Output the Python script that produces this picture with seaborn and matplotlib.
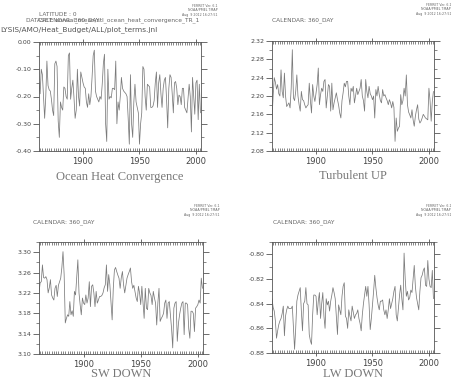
import numpy as np
import matplotlib
matplotlib.use("Agg")
import matplotlib.pyplot as plt
from matplotlib.ticker import MultipleLocator, FormatStrFormatter
import seaborn as sns

# annual series, one value per year starting 1861
start_year = 1861

ocean_heat_conv = [
    -0.15, -0.19, -0.10, -0.12, -0.20, -0.28, -0.20, -0.07, -0.16, -0.175,
    -0.18, -0.21, -0.25, -0.27, -0.08, -0.07, -0.09, -0.29, -0.35, -0.22,
    -0.24, -0.25, -0.165, -0.17, -0.20, -0.21, -0.05, -0.04, -0.21, -0.17,
    -0.14, -0.205, -0.28, -0.25, -0.10, -0.20, -0.235, -0.11, -0.13, -0.15,
    -0.165, -0.17, -0.22, -0.24, -0.19, -0.23, -0.20, -0.13, -0.05, -0.03,
    -0.18, -0.20, -0.21, -0.22, -0.20, -0.21, -0.155, -0.08, -0.045, -0.30,
    -0.365, -0.10, -0.21, -0.20, -0.205, -0.17, -0.17, -0.175, -0.07, -0.30,
    -0.22, -0.25, -0.20, -0.13, -0.17, -0.18, -0.185, -0.19, -0.20, -0.28,
    -0.375, -0.12, -0.30, -0.35, -0.22, -0.155, -0.22, -0.24, -0.26, -0.375,
    -0.30, -0.26, -0.09, -0.10, -0.20, -0.25, -0.155, -0.16, -0.165, -0.24,
    -0.24, -0.235, -0.215, -0.15, -0.11, -0.24, -0.15, -0.12, -0.19, -0.24,
    -0.17, -0.14, -0.13, -0.21, -0.315, -0.17, -0.12, -0.13, -0.19, -0.26,
    -0.15, -0.145, -0.17, -0.23, -0.195, -0.20, -0.23, -0.17, -0.17, -0.24,
    -0.25, -0.26, -0.205, -0.155, -0.20, -0.33, -0.13, -0.20, -0.265, -0.15,
    -0.14, -0.285, -0.155, -0.26,
]

turbulent_up = [
    2.15, 2.20, 2.24, 2.23, 2.215, 2.225, 2.205, 2.20, 2.257, 2.21,
    2.196, 2.25, 2.20, 2.177, 2.181, 2.185, 2.174, 2.217, 2.301, 2.196,
    2.19, 2.21, 2.246, 2.20, 2.181, 2.167, 2.21, 2.192, 2.19, 2.181,
    2.174, 2.178, 2.181, 2.228, 2.19, 2.163, 2.225, 2.20, 2.188, 2.207,
    2.225, 2.261, 2.181, 2.203, 2.217, 2.21, 2.232, 2.236, 2.174, 2.20,
    2.225, 2.221, 2.167, 2.228, 2.17, 2.185, 2.196, 2.207, 2.192, 2.18,
    2.163, 2.152, 2.19, 2.207, 2.228, 2.22, 2.232, 2.232, 2.20, 2.181,
    2.217, 2.21, 2.221, 2.185, 2.20, 2.217, 2.203, 2.21, 2.217, 2.236,
    2.20, 2.19, 2.167, 2.236, 2.21, 2.196, 2.221, 2.205, 2.20, 2.192,
    2.20, 2.152, 2.214, 2.20, 2.221, 2.203, 2.19, 2.185, 2.214, 2.20,
    2.203, 2.196, 2.19, 2.181, 2.192, 2.185, 2.174, 2.188, 2.175, 2.101,
    2.152, 2.123, 2.13, 2.134, 2.203, 2.181, 2.19, 2.217, 2.20, 2.246,
    2.181, 2.165, 2.159, 2.152, 2.17, 2.148, 2.134, 2.156, 2.17, 2.181,
    2.15, 2.141, 2.145, 2.152, 2.16, 2.156, 2.152, 2.15, 2.148, 2.217,
    2.19, 2.145, 2.188, 2.21,
]

sw_down = [
    3.22, 3.24, 3.242, 3.275, 3.25, 3.249, 3.252, 3.246, 3.22, 3.23,
    3.246, 3.216, 3.21, 3.206, 3.229, 3.235, 3.213, 3.235, 3.242, 3.249,
    3.27, 3.301, 3.256, 3.161, 3.17, 3.177, 3.174, 3.203, 3.177, 3.185,
    3.174, 3.223, 3.216, 3.25, 3.285, 3.22, 3.197, 3.177, 3.21, 3.20,
    3.197, 3.216, 3.20, 3.21, 3.242, 3.193, 3.233, 3.236, 3.22, 3.193,
    3.223, 3.20, 3.206, 3.213, 3.213, 3.215, 3.22, 3.23, 3.236, 3.275,
    3.223, 3.256, 3.236, 3.20, 3.167, 3.229, 3.265, 3.27, 3.262, 3.255,
    3.249, 3.229, 3.25, 3.262, 3.236, 3.22, 3.235, 3.249, 3.256, 3.262,
    3.269, 3.242, 3.229, 3.235, 3.223, 3.21, 3.203, 3.233, 3.22, 3.197,
    3.233, 3.20, 3.17, 3.229, 3.19, 3.187, 3.229, 3.22, 3.215, 3.197,
    3.223, 3.21, 3.20, 3.157, 3.20, 3.229, 3.164, 3.17, 3.174, 3.18,
    3.20, 3.206, 3.17, 3.20, 3.203, 3.177, 3.15, 3.112, 3.19, 3.20,
    3.203, 3.125, 3.16, 3.177, 3.19, 3.20, 3.203, 3.138, 3.20, 3.20,
    3.197, 3.15, 3.131, 3.184, 3.184, 3.18, 3.144, 3.19, 3.193, 3.197,
    3.206, 3.20, 3.249, 3.229,
]

lw_down = [
    -0.836, -0.843, -0.846, -0.854, -0.868, -0.862, -0.857, -0.854, -0.852, -0.848,
    -0.842, -0.866, -0.850, -0.845, -0.842, -0.844, -0.844, -0.844, -0.842, -0.860,
    -0.877, -0.860, -0.838, -0.833, -0.830, -0.827, -0.846, -0.862, -0.840, -0.838,
    -0.827, -0.840, -0.841, -0.865, -0.870, -0.873, -0.849, -0.833, -0.833, -0.834,
    -0.849, -0.838, -0.831, -0.852, -0.840, -0.831, -0.850, -0.860, -0.836, -0.841,
    -0.838, -0.846, -0.838, -0.833, -0.827, -0.831, -0.836, -0.850, -0.865, -0.841,
    -0.845, -0.849, -0.834, -0.826, -0.823, -0.850, -0.852, -0.860, -0.845, -0.850,
    -0.854, -0.842, -0.847, -0.852, -0.849, -0.848, -0.845, -0.852, -0.856, -0.862,
    -0.849, -0.840, -0.833, -0.826, -0.834, -0.826, -0.841, -0.861, -0.852, -0.841,
    -0.830, -0.817, -0.827, -0.835, -0.841, -0.845, -0.838, -0.838, -0.837, -0.845,
    -0.849, -0.845, -0.852, -0.845, -0.836, -0.844, -0.840, -0.836, -0.830, -0.826,
    -0.849, -0.854, -0.843, -0.833, -0.825, -0.836, -0.845, -0.799, -0.820, -0.834,
    -0.830, -0.837, -0.835, -0.829, -0.831, -0.820, -0.809, -0.826, -0.835, -0.840,
    -0.845, -0.830, -0.819, -0.817, -0.813, -0.811, -0.825, -0.826, -0.805, -0.820,
    -0.826, -0.827, -0.813, -0.836,
]

panel_titles = ["Ocean Heat Convergence", "Turbulent UP", "SW DOWN", "LW DOWN"]
panel_ylims = [(-0.40, 0.00), (2.08, 2.32), (3.10, 3.32), (-0.88, -0.79)]
panel_yticks = [
    [-0.40, -0.30, -0.20, -0.10, 0.00],
    [2.08, 2.12, 2.16, 2.20, 2.24, 2.28, 2.32],
    [3.10, 3.14, 3.18, 3.22, 3.26, 3.30],
    [-0.88, -0.86, -0.84, -0.82, -0.80],
]
x_ticks = [1900, 1950, 2000]

sns.set_theme(style="white")
plt.rcParams["axes.unicode_minus"] = False
plt.rcParams["font.family"] = ["DejaVu Sans"]

W, H = 451, 382
fig = plt.figure(figsize=(W / 100, H / 100), dpi=100)
fig.patch.set_facecolor("white")

# axes boxes in pixels: left, top, right, bottom
boxes = [(39, 42, 201, 151), (272, 41, 434, 151), (39, 242, 203, 354), (272, 242, 434, 353)]
title_y = [177, 176, 374, 374]
series = [ocean_heat_conv, turbulent_up, sw_down, lw_down]

ink = "#555555"

for i, (b, vals) in enumerate(zip(boxes, series)):
    l, t, r, btm = b
    ax = fig.add_axes([l / W, 1 - btm / H, (r - l) / W, (btm - t) / H])
    yrs = np.arange(start_year, start_year + len(vals))
    sns.lineplot(x=yrs, y=vals, ax=ax, color="#7a7a7a", linewidth=0.55)
    ax.set_xlim(1861, 2004.5)
    ax.set_ylim(*panel_ylims[i])
    ax.set_facecolor("white")
    for sp in ax.spines.values():
        sp.set_color(ink)
        sp.set_linewidth(0.6)
    ax.set_xticks(x_ticks)
    ax.xaxis.set_minor_locator(MultipleLocator(2))
    yt = panel_yticks[i]
    ax.set_yticks(yt)
    step = yt[1] - yt[0]
    ax.set_yticks([v + step / 2 for v in yt if v + step / 2 < panel_ylims[i][1] + 1e-9], minor=True)
    ax.yaxis.set_major_formatter(FormatStrFormatter("%.2f"))
    ax.tick_params(axis="x", which="major", direction="inout", length=5, width=0.6,
                   color=ink, labelsize=6, labelcolor="#444444", top=True, bottom=True, pad=2)
    ax.tick_params(axis="x", which="minor", direction="in", length=2, width=0.5,
                   color=ink, top=True, bottom=True)
    ax.tick_params(axis="y", which="major", direction="out", length=4, width=0.6,
                   color=ink, labelsize=4.5, labelcolor="#444444", left=True, right=True, pad=1.5)
    ax.tick_params(axis="y", which="minor", direction="out", length=2.5, width=0.5,
                   color=ink, left=True, right=True)
    ax.set_xlabel("")
    ax.set_ylabel("")
    # title under the panel
    cx = (l + r) / 2 / W
    fig.text(cx, 1 - title_y[i] / H, panel_titles[i], ha="center", va="center", fontsize=9,
             family="Liberation Serif", color="#777777")
    # ferret stamp
    fig.text((r + 17) / W, 1 - (t - 38) / H,
             "FERRET Ver. 6.1\nNOAA/PMEL TMAP\nAug  9 2012 16:27:51",
             ha="right", va="top", fontsize=2.3, color="#666666", linespacing=1.1)

# header texts
hdr = dict(fontsize=4.2, color="#666666")
fig.text(39 / W, 1 - 14 / H, "LATITUDE : 0", va="center", **hdr)
fig.text(26 / W, 1 - 20 / H, "DATASET: annual_mean/stl_ocean_heat_convergence_TR_1", va="center", **hdr)
fig.text(38 / W, 1 - 20 / H, "CALENDAR: 360_DAY", va="center", **hdr)
fig.text(0, 1 - 30 / H, "LYSIS/AMO/Heat_Budget/ALL/plot_terms.jnl", va="center",
         fontsize=5.3, color="#555555")
fig.text(272 / W, 1 - 20 / H, "CALENDAR: 360_DAY", va="center", **hdr)
fig.text(33 / W, 1 - 222 / H, "CALENDAR: 360_DAY", va="center", **hdr)
fig.text(273 / W, 1 - 222 / H, "CALENDAR: 360_DAY", va="center", **hdr)

fig.savefig("out.png", dpi=100, facecolor="white")
